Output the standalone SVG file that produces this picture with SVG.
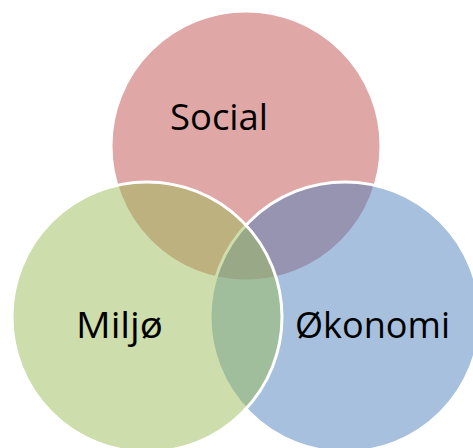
<svg xmlns="http://www.w3.org/2000/svg" width="473" height="448" viewBox="0 0 473 448">
<style>
.c{stroke:#ffffff;stroke-width:3;fill-opacity:0.5}
.t{font-family:"Open Sans","Liberation Sans",sans-serif;font-size:36px;fill:#000000;text-anchor:middle}
</style>
<rect width="473" height="448" fill="#ffffff"/>
<g id="social">
<circle class="c" cx="246" cy="146" r="135" fill="#C0504D"/>
<text class="t" x="219" y="130" textLength="98" lengthAdjust="spacingAndGlyphs">Social</text>
</g>
<g id="okonomi">
<circle class="c" cx="345" cy="317" r="135" fill="#4F81BD"/>
<text class="t" x="372.5" y="338" textLength="155" lengthAdjust="spacingAndGlyphs">Økonomi</text>
</g>
<g id="miljo">
<circle class="c" cx="147" cy="317" r="135" fill="#9BBB59"/>
<text class="t" x="119.5" y="338" textLength="87" lengthAdjust="spacingAndGlyphs">Miljø</text>
</g>
<g id="connectors"/>
</svg>
